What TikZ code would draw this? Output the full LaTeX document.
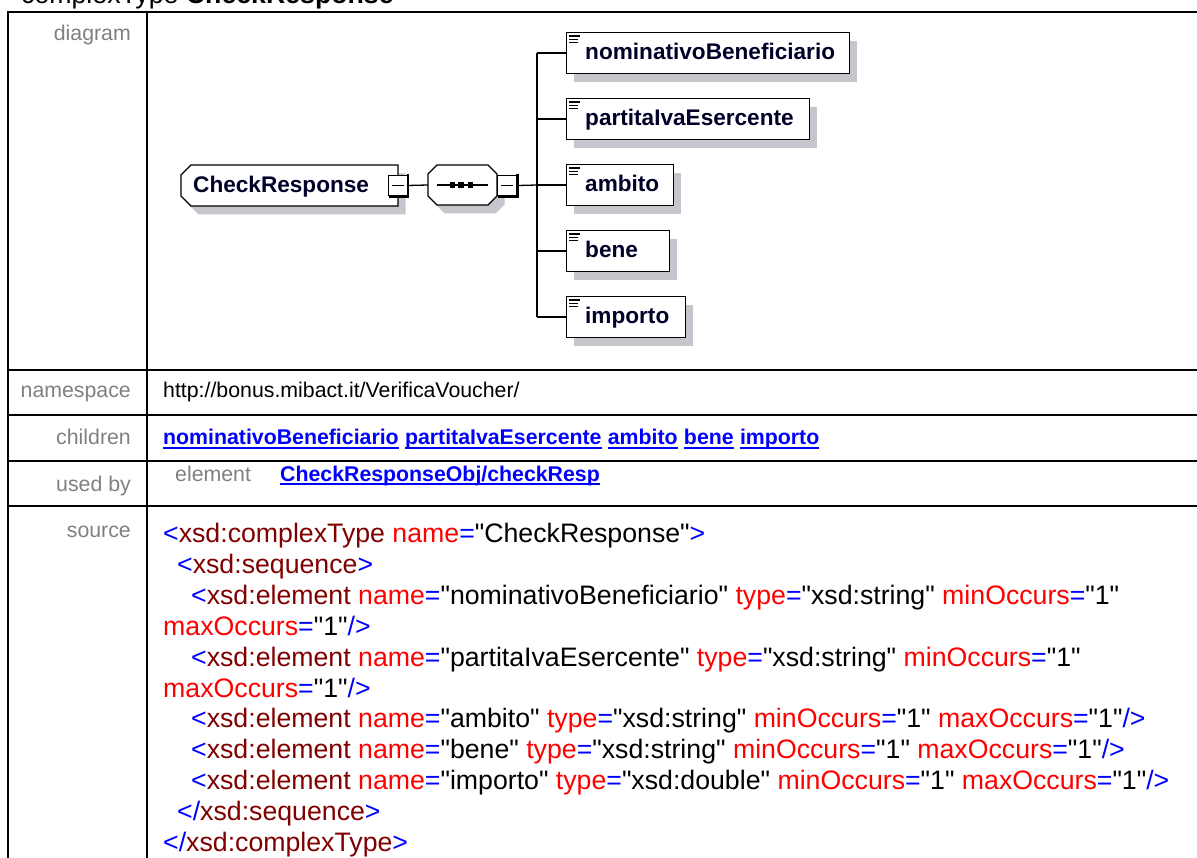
\documentclass[tikz,border=0pt]{standalone}
\usepackage{fontspec}
\setmainfont{Liberation Sans}[Ligatures=TeXOff]
\usetikzlibrary{shadows}
\definecolor{labelgray}{RGB}{128,128,128}
\definecolor{xblue}{RGB}{0,0,255}
\definecolor{xdred}{RGB}{128,0,0}
\definecolor{xred}{RGB}{255,0,0}
\definecolor{shadowgray}{RGB}{198,198,204}
\definecolor{eltextc}{RGB}{0,0,40}
\newcommand\xb[1]{\textcolor{xblue}{#1}}
\newcommand\xe[1]{\textcolor{xdred}{#1}}
\newcommand\xa[1]{\textcolor{xred}{#1}}
\begin{document}
\begin{tikzpicture}[x=1pt,y=-1pt,
  lbl/.style={anchor=base east, text=labelgray, font=\fontsize{21.3}{24}\selectfont, inner sep=0},
  txt/.style={anchor=base west, font=\fontsize{21.3}{24}\selectfont, inner sep=0},
  lnk/.style={anchor=base west, text=xblue, font=\fontsize{21.3}{24}\selectfont\bfseries, inner sep=0},
  src/.style={anchor=base west, font=\fontsize{26.7}{30}\selectfont, inner sep=0},
  rule/.style={line width=2.2pt},
  conn/.style={line width=1.3pt},
  shapeline/.style={draw, line width=1.4pt, fill=white},
  eltext/.style={anchor=base west, font=\fontsize{22.6}{26}\selectfont\bfseries, text=eltextc, inner sep=0},
  childbox/.style={draw, line width=1.4pt, fill=white, minimum height=41pt, inner sep=0, anchor=west,
    drop shadow={shadow xshift=7.5pt, shadow yshift=-8.5pt, fill=shadowgray, opacity=1}},
  minusbox/.style={draw, line width=1pt, fill=white, minimum width=19pt, minimum height=20pt, inner sep=0},
  ulink/.style={xblue, line width=1.3pt}
]
\useasboundingbox (0,0) rectangle (1197,858);
\clip (0,0) rectangle (1197,858);

% title
\node[anchor=base west, inner sep=0, font=\fontsize{26.7}{30}\selectfont] (title) at (21,4) {complexType \textbf{CheckResponse}};

% table rules
\draw[rule] (8,12) -- (1197,12);
\draw[rule] (8,370) -- (1197,370);
\draw[rule] (8,415) -- (1197,415);
\draw[rule] (8,461) -- (1197,461);
\draw[rule] (8,506) -- (1197,506);
\draw[rule] (8,11) -- (8,858);
\draw[rule] (147,11) -- (147,858);

% row labels
\node[lbl] (ldiag) at (131,41) {diagram};
\node[lbl] (lns) at (131,398) {namespace};
\node[lbl] (lch) at (131,445) {children};
\node[lbl] (lub) at (131,491) {used by};
\node[lbl] (lsrc) at (131,537) {source};

% namespace
\node[txt] (ns) at (163,398) {http://bonus.mibact.it/VerificaVoucher/};

% children links
\node[lnk] (k1) at (163,445) {nominativoBeneficiario};
\node[lnk] (k2) at ([xshift=5.9pt]k1.base east) {partitaIvaEsercente};
\node[lnk] (k3) at ([xshift=5.9pt]k2.base east) {ambito};
\node[lnk] (k4) at ([xshift=5.9pt]k3.base east) {bene};
\node[lnk] (k5) at ([xshift=5.9pt]k4.base east) {importo};
\foreach \n in {k1,k2,k3,k4,k5} \draw[ulink] ([yshift=-3pt]\n.base west) -- ([yshift=-3pt]\n.base east);

% used by
\node[txt, text=labelgray] (ube) at (175,481) {element};
\node[lnk] (ubl) at (280,481) {CheckResponseObj/checkResp};
\draw[ulink] ([yshift=-3pt]ubl.base west) -- ([yshift=-3pt]ubl.base east);

% source
\node[src] (s0) at (163,542.5) {\xb{<}\xe{xsd:complexType} \xa{name}\xb{=}"CheckResponse"\xb{>}};
\node[src] (s1) at (177,573.4) {\xb{<}\xe{xsd:sequence}\xb{>}};
\node[src] (s2) at (191,604.3) {\xb{<}\xe{xsd:element} \xa{name}\xb{=}"nominativoBeneficiario" \xa{type}\xb{=}"xsd:string" \xa{minOccurs}\xb{=}"1"};
\node[src] (s3) at (163,635.2) {\xa{maxOccurs}\xb{=}"1"\xb{/>}};
\node[src] (s4) at (191,666.1) {\xb{<}\xe{xsd:element} \xa{name}\xb{=}"partitaIvaEsercente" \xa{type}\xb{=}"xsd:string" \xa{minOccurs}\xb{=}"1"};
\node[src] (s5) at (163,697.0) {\xa{maxOccurs}\xb{=}"1"\xb{/>}};
\node[src] (s6) at (191,727.9) {\xb{<}\xe{xsd:element} \xa{name}\xb{=}"ambito" \xa{type}\xb{=}"xsd:string" \xa{minOccurs}\xb{=}"1" \xa{maxOccurs}\xb{=}"1"\xb{/>}};
\node[src] (s7) at (191,758.8) {\xb{<}\xe{xsd:element} \xa{name}\xb{=}"bene" \xa{type}\xb{=}"xsd:string" \xa{minOccurs}\xb{=}"1" \xa{maxOccurs}\xb{=}"1"\xb{/>}};
\node[src] (s8) at (191,789.7) {\xb{<}\xe{xsd:element} \xa{name}\xb{=}"importo" \xa{type}\xb{=}"xsd:double" \xa{minOccurs}\xb{=}"1" \xa{maxOccurs}\xb{=}"1"\xb{/>}};
\node[src] (s9) at (177,820.6) {\xb{</}\xe{xsd:sequence}\xb{>}};
\node[src] (s10) at (163,851.5) {\xb{</}\xe{xsd:complexType}\xb{>}};

% ---------------- diagram ----------------
\begin{scope}[shift={(7.5,8.5)}]
  \fill[shadowgray] (191,165) -- (398,165) -- (398,206) -- (191,206) -- (181,196) -- (181,175) -- cycle;
  \fill[shadowgray] (437,165) -- (488,165) -- (497,174) -- (497,196) -- (488,205) -- (437,205) -- (428,196) -- (428,174) -- cycle;
\end{scope}
% root
\draw[shapeline] (191,165) -- (398,165) -- (398,206) -- (191,206) -- (181,196) -- (181,175) -- cycle;
\node[eltext] (root) at (193,193) {CheckResponse};
% sequence
\draw[shapeline] (437,165) -- (488,165) -- (497,174) -- (497,196) -- (488,205) -- (437,205) -- (428,196) -- (428,174) -- cycle;
\coordinate (seqw) at (428,185);
\draw[conn] (437,185) -- (488,185);
\fill (449.5,182.3) rectangle (455,187.8);
\fill (458.3,182.3) rectangle (463.8,187.8);
\fill (467.7,182.3) rectangle (473.2,187.8);

% minus boxes
\node[minusbox] (m1) at (397.5,185.5) {};
\node[minusbox] (m2) at (507,185.5) {};
\foreach \m in {m1,m2} {
  \draw[line width=2.6pt] ([shift={(0.5,-1)}]\m.north east) -- ([shift={(0.5,0.5)}]\m.south east) -- ([shift={(1,0.5)}]\m.south west);
  \draw[line width=1.2pt] ([xshift=-6pt]\m.center) -- ([xshift=6pt]\m.center);
}

\coordinate (bus) at (537,185);
\draw[conn] (m1.east) -- (seqw);
\draw[conn] ([xshift=1.3pt]m2.east) -- (bus);

% children
\node[childbox, minimum width=283pt] (c1) at (566,53) {};
\node[childbox, minimum width=243pt] (c2) at (566,119) {};
\node[childbox, minimum width=107pt] (c3) at (566,185) {};
\node[childbox, minimum width=103pt] (c4) at (566,251) {};
\node[childbox, minimum width=119pt] (c5) at (566,317) {};

\draw[conn] (bus |- c1.west) -- (bus |- c5.west);
\foreach \c in {c1,c2,c3,c4,c5} {
  \draw[conn] (bus |- \c.west) -- (\c.west);
  \draw[line width=1.3pt] ([shift={(3,4.3)}]\c.north west) -- ++(11,0);
  \draw[line width=1.3pt] ([shift={(3,7.7)}]\c.north west) -- ++(9,0);
  \draw[line width=1.3pt] ([shift={(3,11)}]\c.north west) -- ++(9,0);
}
\node[eltext] (t1) at ([shift={(19,7)}]c1.west) {nominativoBeneficiario};
\node[eltext] (t2) at ([shift={(19,7)}]c2.west) {partitaIvaEsercente};
\node[eltext] (t3) at ([shift={(19,7)}]c3.west) {ambito};
\node[eltext] (t4) at ([shift={(19,7)}]c4.west) {bene};
\node[eltext] (t5) at ([shift={(19,7)}]c5.west) {importo};
\end{tikzpicture}
\end{document}
